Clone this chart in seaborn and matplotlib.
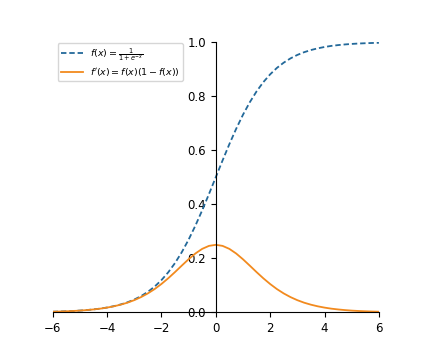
import pandas as pd
import matplotlib
matplotlib.use('Agg')
import matplotlib.pyplot as plt
import seaborn as sns

# valores
x_vals = [-6.0, -5.75, -5.5, -5.25, -5.0, -4.75, -4.5, -4.25, -4.0, -3.75, -3.5, -3.25,
          -3.0, -2.75, -2.5, -2.25, -2.0, -1.75, -1.5, -1.25, -1.0, -0.75, -0.5, -0.25,
          0.0, 0.25, 0.5, 0.75, 1.0, 1.25, 1.5, 1.75, 2.0, 2.25, 2.5, 2.75,
          3.0, 3.25, 3.5, 3.75, 4.0, 4.25, 4.5, 4.75, 5.0, 5.25, 5.5, 5.75, 6.0]

sigmoid_vals = [0.0025, 0.0032, 0.0041, 0.0052, 0.0067, 0.0086, 0.0110, 0.0140, 0.0180, 0.0230, 0.0293, 0.0373,
                0.0474, 0.0601, 0.0759, 0.0953, 0.1192, 0.1480, 0.1824, 0.2227, 0.2689, 0.3208, 0.3775, 0.4378,
                0.5000, 0.5622, 0.6225, 0.6792, 0.7311, 0.7773, 0.8176, 0.8520, 0.8808, 0.9047, 0.9241, 0.9399,
                0.9526, 0.9627, 0.9707, 0.9770, 0.9820, 0.9860, 0.9890, 0.9914, 0.9933, 0.9948, 0.9959, 0.9968, 0.9975]

deriv_vals = [0.0025, 0.0032, 0.0041, 0.0052, 0.0066, 0.0085, 0.0109, 0.0138, 0.0177, 0.0225, 0.0285, 0.0359,
              0.0452, 0.0565, 0.0701, 0.0862, 0.1050, 0.1261, 0.1491, 0.1731, 0.1966, 0.2179, 0.2350, 0.2461,
              0.2500, 0.2461, 0.2350, 0.2179, 0.1966, 0.1731, 0.1491, 0.1261, 0.1050, 0.0862, 0.0701, 0.0565,
              0.0452, 0.0359, 0.0285, 0.0225, 0.0177, 0.0138, 0.0109, 0.0085, 0.0066, 0.0052, 0.0041, 0.0032, 0.0025]

x_ticks = [-6, -4, -2, 0, 2, 4, 6]
y_ticks = [0.0, 0.2, 0.4, 0.6, 0.8, 1.0]

label_f = r'$f(x)=\frac{1}{1+e^{-x}}$'
label_df = r"$f'(x)=f(x)(1-f(x))$"

data = pd.DataFrame({'x': x_vals, 'f': sigmoid_vals, 'df': deriv_vals})

plt.rcParams['font.size'] = 8.5
fig, ax = plt.subplots(figsize=(4.21, 3.51), dpi=100)

sns.lineplot(data=data, x='x', y='f', ax=ax, color='#23699a', linestyle='--',
             dashes=False, linewidth=1.3, label=label_f)
ax.lines[-1].set_dashes((3, 1.6))
sns.lineplot(data=data, x='x', y='df', ax=ax, color='#f28a1e', linewidth=1.3, label=label_df)

ax.set_xlim(-6, 6)
ax.set_ylim(0, 1)
ax.set_xticks(x_ticks)
ax.set_yticks(y_ticks)
ax.set_xlabel('')
ax.set_ylabel('')

# ejes centrados en el origen
ax.spines['left'].set_position('zero')
ax.spines['bottom'].set_position('zero')
ax.spines['top'].set_visible(False)
ax.spines['right'].set_visible(False)

ax.legend(loc='upper left', fontsize=6.8, handlelength=2.3, borderaxespad=0.35,
          labelspacing=0.3, borderpad=0.35, bbox_to_anchor=(0.005, 1.01))

plt.savefig('out.png', dpi=100)
